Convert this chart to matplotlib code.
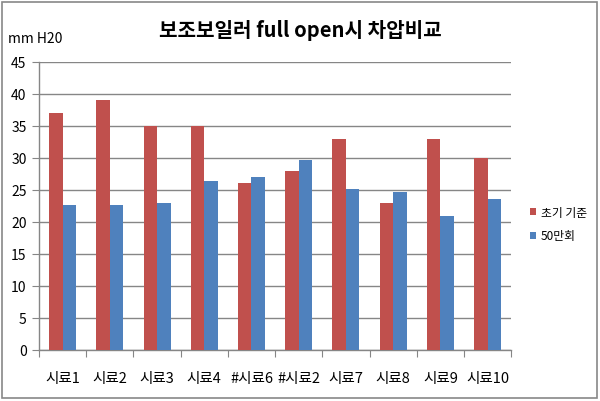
import numpy as np
import matplotlib
matplotlib.use('Agg')
import matplotlib.pyplot as plt
from matplotlib.patches import Rectangle

plt.rcParams['font.family'] = ['Noto Sans CJK KR', 'DejaVu Sans']

categories = ['시료1', '시료2', '시료3', '시료4', '#시료6', '#시료2', '시료7', '시료8', '시료9', '시료10']
initial = [37, 39, 35, 35, 26, 28, 33, 23, 33, 30]
after_500k = [22.7, 22.7, 23.0, 26.3, 27.0, 29.6, 25.2, 24.6, 20.9, 23.6]
series_names = ['초기 기준', '50만회']
colors = ['#C0504D', '#4F81BD']
grid_col = '#868686'

fig = plt.figure(figsize=(6.0, 4.02), dpi=100)
ax = fig.add_axes([0.065, 0.127, 0.787, 0.717])

x = np.arange(len(categories))
w = 0.285
ax.bar(x - w / 2, initial, w, color=colors[0], label=series_names[0], zorder=3)
ax.bar(x + w / 2, after_500k, w, color=colors[1], label=series_names[1], zorder=3)

ax.set_xlim(-0.5, len(categories) - 0.5)
ax.set_ylim(0, 45)
ax.set_yticks(np.arange(0, 46, 5))
ax.yaxis.grid(True, color=grid_col, linewidth=1.0, zorder=0)
ax.set_axisbelow(True)

# category tick marks sit on the boundaries, labels in the middle
ax.set_xticks(np.arange(-0.5, len(categories), 1.0))
ax.set_xticklabels([])
ax.set_xticks(x, minor=True)
ax.set_xticklabels(categories, minor=True, fontsize=10.5)
ax.tick_params(axis='x', which='major', length=5, color=grid_col, direction='out')
ax.tick_params(axis='x', which='minor', length=0, pad=15)
ax.tick_params(axis='y', length=5, color=grid_col, labelsize=10, pad=4)

for s in ['top', 'right']:
    ax.spines[s].set_visible(False)
for s in ['left', 'bottom']:
    ax.spines[s].set_color(grid_col)
    ax.spines[s].set_linewidth(1.0)

fig.text(0.5, 0.925, '보조보일러 full open시 차압비교', ha='center', va='center',
         fontsize=14.5, fontweight='bold')
fig.text(0.014, 0.902, 'mm H20', ha='left', va='center', fontsize=10)

leg = fig.legend(loc='center left', bbox_to_anchor=(0.865, 0.44), frameon=False,
                 fontsize=8.5, handlelength=0.55, handleheight=0.55, handletextpad=0.4,
                 labelspacing=0.9)

# chart frame
fig.patches.append(Rectangle((0.004, 0.008), 0.991, 0.984, transform=fig.transFigure,
                             fill=False, edgecolor='#888888', linewidth=1.2))

fig.savefig('out.png', dpi=100)
